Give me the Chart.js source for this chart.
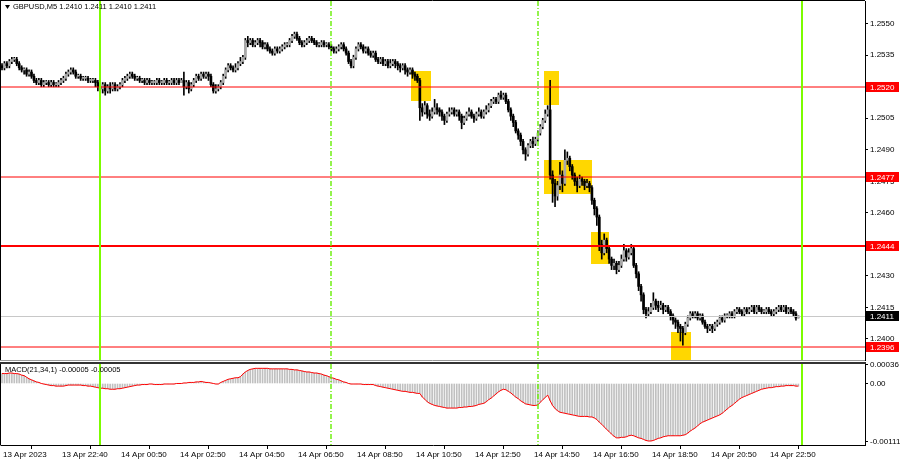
<!DOCTYPE html>
<html>
<head>
<meta charset="utf-8">
<title>GBPUSD M5</title>
<script src="https://cdn.jsdelivr.net/npm/chart.js@4.4.1/dist/chart.umd.min.js"></script>
<style>
  html, body { margin: 0; padding: 0; background: #fff; }
  #wrap { position: relative; width: 900px; height: 460px; overflow: hidden; }
  #priceChart { position: absolute; left: 0; top: 0; }
  #macdChart { position: absolute; left: 0; top: 362px; }
</style>
</head>
<body>
<div id="wrap">
  <canvas id="priceChart" width="900" height="362"></canvas>
  <canvas id="macdChart" width="900" height="98"></canvas>
</div>
<script>
// prices are kept in pips above 1.2400 (129 -> 1.2529)
const BASE = 1.24;
const firstOpenPip = 130;

const closePips = [
  129,131,130,132,133,133,131,129,128,128, 126,127,125,123,122,123,121,122,122,121,
  122,121,121,122,123,124,126,127,128,127, 125,125,124,124,124,123,123,123,122,120,
  119,121,118,120,119,121,119,120,121,123, 124,125,126,125,124,124,123,123,122,123,
  122,122,122,123,122,122,123,122,122,123, 122,123,122,123,120,122,119,121,123,125,
  124,126,125,126,125,121,118,119,120,122, 125,128,130,129,128,129,131,132,134,142,
  141,142,140,141,142,141,139,140,138,137, 136,138,137,138,139,140,140,142,144,145,
  143,141,140,141,142,143,142,141,140,140, 141,140,140,139,138,137,138,139,140,138,
  136,132,130,134,138,140,139,137,138,136, 135,136,133,132,133,131,132,130,131,132,
  131,130,129,130,128,127,128,126,125,123, 110,108,111,107,106,108,110,109,108,106,
  104,107,108,109,107,108,106,103,105,107, 108,106,105,107,108,106,108,109,111,113,
  114,113,116,115,116,113,109,106,103,99, 97,94,90,88,92,94,93,95,98,101,
  104,107,109,78,74,68,73,78,74,85, 86,82,78,75,73,76,75,73,74,72,
  66,62,58,45,41,47,43,38,35,36, 33,35,38,42,39,41,43,35,31,25,
  21,14,12,13,15,18,16,15,16,14, 15,13,11,9,8,6,5,3,7,10,
  12,11,12,10,11,8,6,5,6,5, 7,8,10,9,11,11,12,11,13,14,
  13,12,14,13,14,15,13,15,14,13, 13,14,13,12,13,14,15,14,15,13,
  14,13,12,10,11
];

const highPips = [
  131,132,132,133,134,134,134,132,130,129, 129,128,128,126,124,124,124,123,123,123,
  123,123,122,123,124,125,127,128,129,129, 128,126,126,125,125,125,124,124,124,123,
  122,122,122,121,122,122,122,121,122,124, 125,126,127,127,126,125,125,124,124,124,
  124,123,123,124,124,123,124,124,123,124, 124,124,124,124,127,123,123,122,124,126,
  126,127,127,127,127,126,122,121,121,123, 126,129,131,131,130,131,132,134,135,143,
  144,143,143,142,143,143,142,141,141,139, 138,139,139,139,140,141,141,143,145,146,
  146,144,142,142,143,144,144,143,142,141, 142,142,141,141,140,139,139,140,141,141,
  139,137,133,135,139,141,141,140,139,139, 137,137,137,134,134,134,133,133,133,133,
  133,132,131,131,131,129,129,129,127,126, 124,112,113,112,109,110,114,112,110,109,
  107,108,110,110,110,109,109,107,106,108, 110,109,107,108,110,109,109,111,112,114,
  115,115,117,118,117,117,114,110,107,104, 100,98,95,91,93,95,96,96,99,102,
  105,109,111,123,80,76,75,84,80,90, 89,87,83,79,77,78,77,76,76,75,
  73,67,63,59,47,50,48,44,39,38, 37,37,40,45,43,43,45,44,36,32,
  26,22,15,15,17,22,19,18,18,17, 16,16,14,12,10,9,7,6,8,11,
  13,13,13,13,12,12,9,7,7,7, 8,9,11,11,12,12,13,13,14,15,
  15,14,15,15,15,16,16,16,16,15, 14,15,15,14,14,15,16,16,16,16,
  15,15,14,13,11
];

const lowPips = [
  128,128,129,129,131,132,130,128,127,126, 125,125,124,122,121,121,120,120,121,120,
  120,120,120,120,121,122,123,125,126,126, 124,124,123,123,123,122,122,122,120,118,
  117,117,116,117,117,118,118,118,119,120, 122,123,124,124,123,123,122,122,121,121,
  121,121,121,121,121,121,121,121,121,121, 121,121,121,122,116,119,117,118,120,122,
  123,123,124,124,123,120,117,117,118,119, 121,124,127,128,127,127,128,130,131,133,
  139,140,139,139,140,139,138,138,137,136, 135,135,136,136,137,138,139,139,141,143,
  142,140,139,139,140,141,141,140,139,139, 139,139,139,138,137,136,136,137,138,137,
  135,131,129,129,133,137,138,136,136,135, 134,134,132,131,131,130,130,129,129,130,
  129,128,127,128,126,125,126,124,123,122, 104,106,107,105,104,105,107,107,106,104,
  102,103,106,107,106,106,104,100,102,104, 106,105,103,104,106,105,105,107,108,110,
  112,112,112,114,114,112,108,104,101,98, 95,92,88,85,87,91,91,92,94,97,
  100,103,106,76,65,63,66,71,70,73, 83,80,76,73,70,72,73,71,72,70,
  64,59,54,42,38,40,41,36,33,33, 31,32,34,37,37,38,40,34,29,23,
  18,12,10,11,12,14,14,13,14,12, 13,12,9,7,5,3,-1,-3,2,6,
  9,10,10,9,9,7,5,3,4,3, 4,6,7,8,8,10,10,10,10,12,
  12,11,11,12,12,13,12,12,13,12, 12,12,12,11,11,12,13,13,13,12,
  12,12,11,9,10
];

// MACD(21,34,1) main line, in units of 0.00001
const macdPts = [
  19,19,19,20,20,19,19,18, 16,15,12,9,7, 5,3,2,0,-1,-2,-3,
  -4,-4,-5,-5,-5,-5,-4,-3,-3,-3,-3, -3,-3,-4,-4,-5,-5,-6,-7,-8,-9,
  -9,-10,-10,-11,-11,-11,-10,-10,-9, -8,-7,-6,-5,-4,-3,-3,
  -2,-2,-2,-1,-1,-2,-2,-2,-2,-1,-1,-1,-1,-1,0,0, 0,1,1,2,2,2,3,3,4,
  3,2,2,1,0,-1,-1, 2,4,6,8,9,10,11,11, 13,18,22,25,27,28,29,29,29,
  29,29,29,28,28,28,28,28,28,28,28,27,27, 26,26,25,24,23,22,22,21,20,20,19,
  18,16,15,13,11,10, 8,7,5,3,2,0,-1, -1,-1,-1,-1,-2,-2,-2,-2,-2,
  -4,-5,-6,-7,-8,-9,-10,-11,-12,-13,-14, -15,-15,-16,-17,-17,-18,-19,-19,
  -26,-30,-35,-38,-40,-42, -43,-44,-45,-46,-47,-47,-47, -47,-47,-46,-46,-45,-45,-44,-44,
  -43,-42,-40,-39,-38, -35,-31,-28,-24,-20,-16,-13,-11,
  -12,-15,-18,-22,-26,-29,-33,-36,-39,-40, -41,-42,-42,-41, -36,-31,-27,-22,
  -33,-42,-48,-52,-55, -56,-57,-58,-59,-60,-61,-62, -63,-63,-63,-63,-64,-64,
  -66,-69,-74,-78,-83,-88,-92,-97,-101,-104, -104,-103,-103,-102,-100,-99,
  -100,-102,-104,-105,-107,-109,-110,-110, -109,-107,-105,-104,-102,-101,-100,-100,
  -100,-100,-100,-100,-99,-98, -95,-91,-88,-85,-81,-77,-74, -72,-70,-68,-66,-64,-62,-60,
  -57,-53,-49,-45,-42,-38,-34,-30,-27, -25,-23,-21,-19,-17,-15,-13,-11,-10,-9,
  -8,-8,-7,-6,-6,-5,-5,-4,-4, -4,-4,-5,-5
];

const timeLabels = ['13 Apr 2023', '13 Apr 22:40', '14 Apr 00:50', '14 Apr 02:50', '14 Apr 04:50',
  '14 Apr 06:50', '14 Apr 08:50', '14 Apr 10:50', '14 Apr 12:50', '14 Apr 14:50',
  '14 Apr 16:50', '14 Apr 18:50', '14 Apr 20:50', '14 Apr 22:50'];
const LABEL_STEP = 24; // bars between time labels

const priceTicks = [1.2400, 1.2415, 1.2430, 1.2445, 1.2460, 1.2475, 1.2490, 1.2505, 1.2520, 1.2535, 1.2550];
const macdTicks = [0.00036, 0, -0.00111];

const levels = [1.2520, 1.2477, 1.2444, 1.2396];
const separatorBars = [40, 325.5];   // solid green lines
const sessionBars = [134, 218];      // dash-dot green lines

// yellow zones: bar from / bar to / price high / price low
const zoneFrom = [166.5, 220.5, 220.5, 239.5, 272];
const zoneTo = [174.5, 226.5, 240, 247, 280.5];
const zoneHigh = [1.25275, 1.25275, 1.24851, 1.24508, 1.24032];
const zoneLow = [1.25132, 1.25113, 1.24689, 1.24356, 1.23880];

const toPrice = (p) => +(BASE + p / 10000).toFixed(5);
const openPips = closePips.map((c, i) => (i === 0 ? firstOpenPip : closePips[i - 1]));
const last = closePips.length - 1;
const lastPrice = toPrice(closePips[last]);

const X_MIN = -0.407;
const X_MAX = 351.1;
const FONT = '"Liberation Sans", Arial, sans-serif';

Chart.defaults.font.family = FONT;
Chart.defaults.font.size = 8;
Chart.defaults.color = '#000';

const xOf = (chart, v) => chart.scales.x.getPixelForValue(v);
const noPad = (s) => { s.paddingTop = 0; s.paddingBottom = 0; s.paddingLeft = 0; s.paddingRight = 0; };

const verticalLines = {
  id: 'verticalLines',
  afterDatasetsDraw(chart) {
    const { ctx, chartArea } = chart;
    ctx.save();
    ctx.strokeStyle = '#7cfc00';
    ctx.lineWidth = 2;
    separatorBars.forEach((b) => {
      const x = Math.round(xOf(chart, b));
      ctx.beginPath();
      ctx.moveTo(x, chartArea.top);
      ctx.lineTo(x, chartArea.bottom);
      ctx.stroke();
    });
    ctx.strokeStyle = '#66ee00';
    ctx.lineWidth = 1.4;
    ctx.setLineDash([5, 2, 1, 2]);
    sessionBars.forEach((b) => {
      const x = Math.round(xOf(chart, b));
      ctx.beginPath();
      ctx.moveTo(x, chartArea.top);
      ctx.lineTo(x, chartArea.bottom);
      ctx.stroke();
    });
    ctx.restore();
  }
};

const zonesPlugin = {
  id: 'zones',
  beforeDatasetsDraw(chart) {
    const { ctx, chartArea, scales } = chart;
    ctx.save();
    ctx.beginPath();
    ctx.rect(chartArea.left, chartArea.top, chartArea.right - chartArea.left, chartArea.bottom - chartArea.top);
    ctx.clip();
    ctx.fillStyle = '#ffd700';
    zoneFrom.forEach((f, k) => {
      const x1 = Math.round(scales.x.getPixelForValue(f));
      const x2 = Math.round(scales.x.getPixelForValue(zoneTo[k]));
      const y1 = Math.round(scales.y.getPixelForValue(zoneHigh[k]));
      const y2 = Math.round(scales.y.getPixelForValue(zoneLow[k]));
      ctx.fillRect(x1, y1, x2 - x1, y2 - y1);
    });
    ctx.restore();
  }
};

const axisTag = (ctx, chart, y, text, bg) => {
  const left = chart.chartArea.right + 1;
  ctx.fillStyle = bg;
  ctx.fillRect(left, Math.round(y) - 5, 33, 10);
  ctx.fillStyle = '#fff';
  ctx.textAlign = 'left';
  ctx.textBaseline = 'middle';
  ctx.fillText(text, left + 4, Math.round(y) + 0.5);
};

const levelsPlugin = {
  id: 'levels',
  afterDatasetsDraw(chart) {
    const { ctx, chartArea, scales } = chart;
    ctx.save();
    // last price line
    let y = Math.round(scales.y.getPixelForValue(lastPrice)) + 0.5;
    ctx.strokeStyle = '#c8c8c8';
    ctx.lineWidth = 1;
    ctx.beginPath();
    ctx.moveTo(chartArea.left, y);
    ctx.lineTo(chartArea.right, y);
    ctx.stroke();
    // thin levels straddle two pixel rows, the main one is a solid 2px line
    levels.forEach((lv, k) => {
      y = Math.round(scales.y.getPixelForValue(lv));
      ctx.strokeStyle = '#ff0000';
      ctx.lineWidth = k === 2 ? 2 : 1;
      ctx.beginPath();
      ctx.moveTo(chartArea.left, y);
      ctx.lineTo(chartArea.right, y);
      ctx.stroke();
    });
    ctx.restore();
  },
  afterDraw(chart) {
    const { ctx, scales } = chart;
    ctx.save();
    ctx.font = '8px ' + FONT;
    levels.forEach((lv) => axisTag(ctx, chart, scales.y.getPixelForValue(lv), lv.toFixed(4), '#ff0000'));
    axisTag(ctx, chart, scales.y.getPixelForValue(lastPrice), lastPrice.toFixed(4), '#000');
    ctx.restore();
  }
};

const framePlugin = {
  id: 'frame',
  afterDraw(chart, args, opts) {
    const { ctx, chartArea } = chart;
    ctx.save();
    ctx.strokeStyle = '#000';
    ctx.lineWidth = 1;
    ctx.beginPath();
    ctx.moveTo(0.5, 0);
    ctx.lineTo(0.5, chartArea.bottom + 0.5);
    if (opts.top) {
      ctx.moveTo(0, 0.5);
      ctx.lineTo(chartArea.right, 0.5);
    }
    ctx.stroke();
    if (opts.thickTop) {
      ctx.fillStyle = '#333';
      ctx.fillRect(0, 0, chartArea.right + 1, 2);
    }
    if (opts.bottom) {
      ctx.strokeStyle = opts.bottom;
      ctx.beginPath();
      ctx.moveTo(0, chartArea.bottom + 0.5);
      ctx.lineTo(chartArea.right, chartArea.bottom + 0.5);
      ctx.stroke();
    }
    ctx.restore();
  }
};

const headerPlugin = {
  id: 'header',
  afterDraw(chart, args, opts) {
    const { ctx } = chart;
    ctx.save();
    ctx.fillStyle = '#000';
    ctx.font = '7.5px ' + FONT;
    ctx.textBaseline = 'middle';
    ctx.textAlign = 'left';
    if (opts.arrow) {
      ctx.beginPath();
      ctx.moveTo(5, 5);
      ctx.lineTo(10, 5);
      ctx.lineTo(7.5, 9);
      ctx.closePath();
      ctx.fill();
    }
    ctx.fillText(opts.text, opts.x, opts.y);
    ctx.restore();
  }
};

const bullColor = '#a8a8a8';
const bearColor = '#000';

new Chart(document.getElementById('priceChart'), {
  type: 'bar',
  data: {
    datasets: [
      {
        label: 'body',
        data: closePips.map((c, i) => ({ x: i, y: [toPrice(openPips[i]), toPrice(c)] })),
        backgroundColor: (ctx) => (closePips[ctx.dataIndex] >= openPips[ctx.dataIndex] ? bullColor : bearColor),
        barThickness: 2,
        minBarLength: 1,
        grouped: false,
        order: 0
      },
      {
        label: 'wick',
        data: closePips.map((c, i) => ({ x: i, y: [toPrice(lowPips[i]), toPrice(highPips[i])] })),
        backgroundColor: '#000',
        barThickness: 1,
        grouped: false,
        order: 1
      }
    ]
  },
  options: {
    responsive: false,
    animation: false,
    events: [],
    layout: { padding: { left: 1, top: 1, right: 0, bottom: 2 } },
    plugins: {
      legend: { display: false },
      tooltip: { enabled: false },
      frame: { top: true, bottom: '#999' },
      header: {
        arrow: true,
        x: 13,
        y: 7,
        text: 'GBPUSD,M5 ' + [openPips[last], highPips[last], lowPips[last], closePips[last]]
          .map((p) => toPrice(p).toFixed(4)).join(' ')
      }
    },
    scales: {
      x: { type: 'linear', min: X_MIN, max: X_MAX, offset: false, display: false },
      y: {
        type: 'linear',
        position: 'right',
        min: 1.23900,
        max: 1.25608,
        afterFit: (s) => { s.width = 35; noPad(s); },
        afterBuildTicks: (s) => { s.ticks = priceTicks.map((v) => ({ value: v })); },
        ticks: { callback: (v) => v.toFixed(4), padding: 2, font: { size: 8 } },
        grid: { drawOnChartArea: false, drawTicks: true, tickLength: 3, color: '#000' },
        border: { display: true, color: '#000' }
      }
    }
  },
  plugins: [zonesPlugin, levelsPlugin, verticalLines, framePlugin, headerPlugin]
});

const macdVal = macdPts.map((v) => v / 100000);
const lastMacd = macdVal[macdVal.length - 1].toFixed(5);

new Chart(document.getElementById('macdChart'), {
  type: 'bar',
  data: {
    datasets: [
      {
        type: 'line',
        label: 'signal',
        data: macdVal.map((v, i) => ({ x: i, y: v })),
        borderColor: '#ff0000',
        borderWidth: 1,
        pointRadius: 0,
        tension: 0,
        order: 0
      },
      {
        label: 'MACD',
        data: macdVal.map((v, i) => ({ x: i, y: v })),
        backgroundColor: '#c0c0c0',
        barThickness: 1,
        grouped: false,
        order: 1
      }
    ]
  },
  options: {
    responsive: false,
    animation: false,
    events: [],
    layout: { padding: { left: 1, top: 2, right: 0, bottom: 0 } },
    plugins: {
      legend: { display: false },
      tooltip: { enabled: false },
      frame: { thickTop: true },
      header: { x: 5, y: 8, text: 'MACD(21,34,1) ' + lastMacd + ' ' + lastMacd }
    },
    scales: {
      x: {
        type: 'linear',
        min: X_MIN,
        max: X_MAX,
        offset: false,
        afterFit: (s) => { s.height = 15; noPad(s); },
        afterBuildTicks: (s) => { s.ticks = timeLabels.map((t, k) => ({ value: k * LABEL_STEP })); },
        ticks: {
          callback: (v) => timeLabels[Math.round(v / LABEL_STEP)],
          align: 'start',
          autoSkip: false,
          maxRotation: 0,
          padding: 1,
          labelOffset: 1,
          font: { size: 8 }
        },
        grid: { drawOnChartArea: false, drawTicks: true, tickLength: 4, color: '#000' },
        border: { display: true, color: '#000' }
      },
      y: {
        type: 'linear',
        position: 'right',
        min: -0.001177,
        max: 0.000373,
        afterFit: (s) => { s.width = 35; noPad(s); },
        afterBuildTicks: (s) => { s.ticks = macdTicks.map((v) => ({ value: v })); },
        ticks: {
          callback: (v) => (v === 0 ? '0.00' : v.toFixed(5)),
          padding: 2,
          font: { size: 8 }
        },
        grid: { drawOnChartArea: false, drawTicks: true, tickLength: 3, color: '#000' },
        border: { display: true, color: '#000' }
      }
    }
  },
  plugins: [verticalLines, framePlugin, headerPlugin]
});
</script>
</body>
</html>
